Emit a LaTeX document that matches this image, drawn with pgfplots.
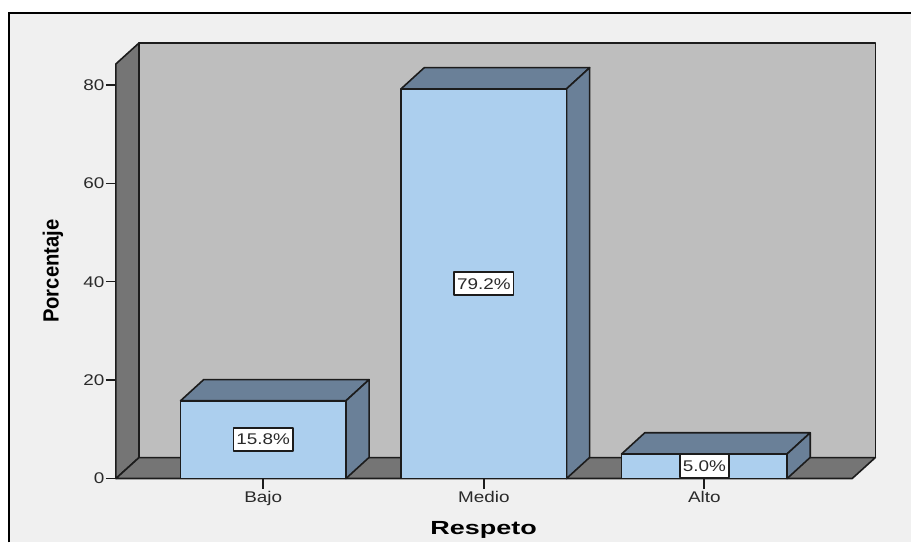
\documentclass[border=0pt]{standalone}
\usepackage{fontspec}
\setmainfont[FakeStretch=1.22]{Liberation Sans}
\newfontfamily\xlabfont[FakeStretch=1.42]{Liberation Sans}
\newfontfamily\ylabfont[FakeStretch=0.92]{Liberation Sans}
\usepackage{pgfplots}
\pgfplotsset{compat=1.18}
\definecolor{panel}{HTML}{F0F0F0}
\definecolor{wall}{HTML}{BEBEBE}
\definecolor{floorc}{HTML}{757575}
\definecolor{barfront}{HTML}{ACCFEE}
\definecolor{barside}{HTML}{6A8098}
\definecolor{ink}{HTML}{1C1C1C}
\definecolor{txt}{HTML}{2A2A2A}
\begin{document}
\begin{tikzpicture}[x=1pt,y=1pt]
  % page 912x543, 1px = 1pt
  \fill[white] (0,0) rectangle (912,543);
  \fill[panel] (9,0) rectangle (912,530);
  \draw[black,line width=1.8pt] (9,0) -- (9,530) -- (912,530);
  \begin{axis}[
    at={(116pt,64pt)},
    anchor=south west,
    scale only axis,
    width=737pt,
    height=415pt,
    xmin=-0.668, xmax=2.670,
    ymin=0, ymax=84.26,
    clip=false,
    axis x line=bottom,
    axis y line=left,
    axis line style={-,draw=none},
    xtick={0,1,2},
    xticklabels={Bajo,Medio,Alto},
    ytick={0,20,40,60,80},
    tick align=outside,
    major tick length=10pt,
    tick style={ink,line width=1.4pt},
    xtick style={ink,line width=2pt},
    tick label style={font=\fontsize{15.5}{15.5}\selectfont,text=txt},
    x tick label style={yshift=1pt},
    y tick label style={xshift=2pt},
    /pgf/number format/assume math mode=true,
    xlabel={\xlabfont\bfseries\fontsize{19}{19}\selectfont Respeto},
    ylabel={\ylabfont\bfseries\fontsize{22}{22}\selectfont Porcentaje},
    xlabel style={at={(axis description cs:0.4995,0)},anchor=center,yshift=-51.5pt,text=black},
    ylabel style={at={(axis description cs:0,0.5)},anchor=center,xshift=0pt,yshift=63pt,text=black},
    every axis plot/.append style={line width=1.6pt,draw=ink,line join=round},
  ]
    % back wall, side wall, floor
    \addplot[fill=wall] coordinates {(-0.563,4.26) (2.775,4.26) (2.775,88.52) (-0.563,88.52)} -- cycle;
    \addplot[fill=floorc] coordinates {(-0.668,0) (-0.563,4.26) (-0.563,88.52) (-0.668,84.26)} -- cycle;
    \addplot[fill=floorc] coordinates {(-0.668,0) (2.670,0) (2.775,4.26) (-0.563,4.26)} -- cycle;

    % Bajo
    \addplot[fill=barside] coordinates {(-0.375,15.8) (0.375,15.8) (0.480,20.1) (-0.270,20.1)} -- cycle;
    \addplot[fill=barside] coordinates {(0.375,0) (0.480,4.3) (0.480,20.1) (0.375,15.8)} -- cycle;
    \addplot[fill=barfront] coordinates {(-0.375,0) (0.375,0) (0.375,15.8) (-0.375,15.8)} -- cycle;
    % Medio
    \addplot[fill=barside] coordinates {(0.625,79.2) (1.375,79.2) (1.480,83.5) (0.730,83.5)} -- cycle;
    \addplot[fill=barside] coordinates {(1.375,0) (1.480,4.3) (1.480,83.5) (1.375,79.2)} -- cycle;
    \addplot[fill=barfront] coordinates {(0.625,0) (1.375,0) (1.375,79.2) (0.625,79.2)} -- cycle;
    % Alto
    \addplot[fill=barside] coordinates {(1.625,5.0) (2.375,5.0) (2.480,9.3) (1.730,9.3)} -- cycle;
    \addplot[fill=barside] coordinates {(2.375,0) (2.480,4.3) (2.480,9.3) (2.375,5.0)} -- cycle;
    \addplot[fill=barfront] coordinates {(1.625,0) (2.375,0) (2.375,5.0) (1.625,5.0)} -- cycle;

    % value labels
    \addplot[draw=none,mark=none,
      point meta=explicit symbolic,
      nodes near coords,
      every node near coord/.style={anchor=center,fill=white,draw=ink,line width=1.4pt,
        font=\fontsize{15.5}{15.5}\selectfont,text=txt,
        minimum height=23pt,inner xsep=3pt,inner ysep=0pt},
    ] coordinates {
      (0,7.9) [15.8\%]
      (1,39.6) [79.2\%]
      (2,2.5) [5.0\%]
    };
  \end{axis}
\end{tikzpicture}
\end{document}
